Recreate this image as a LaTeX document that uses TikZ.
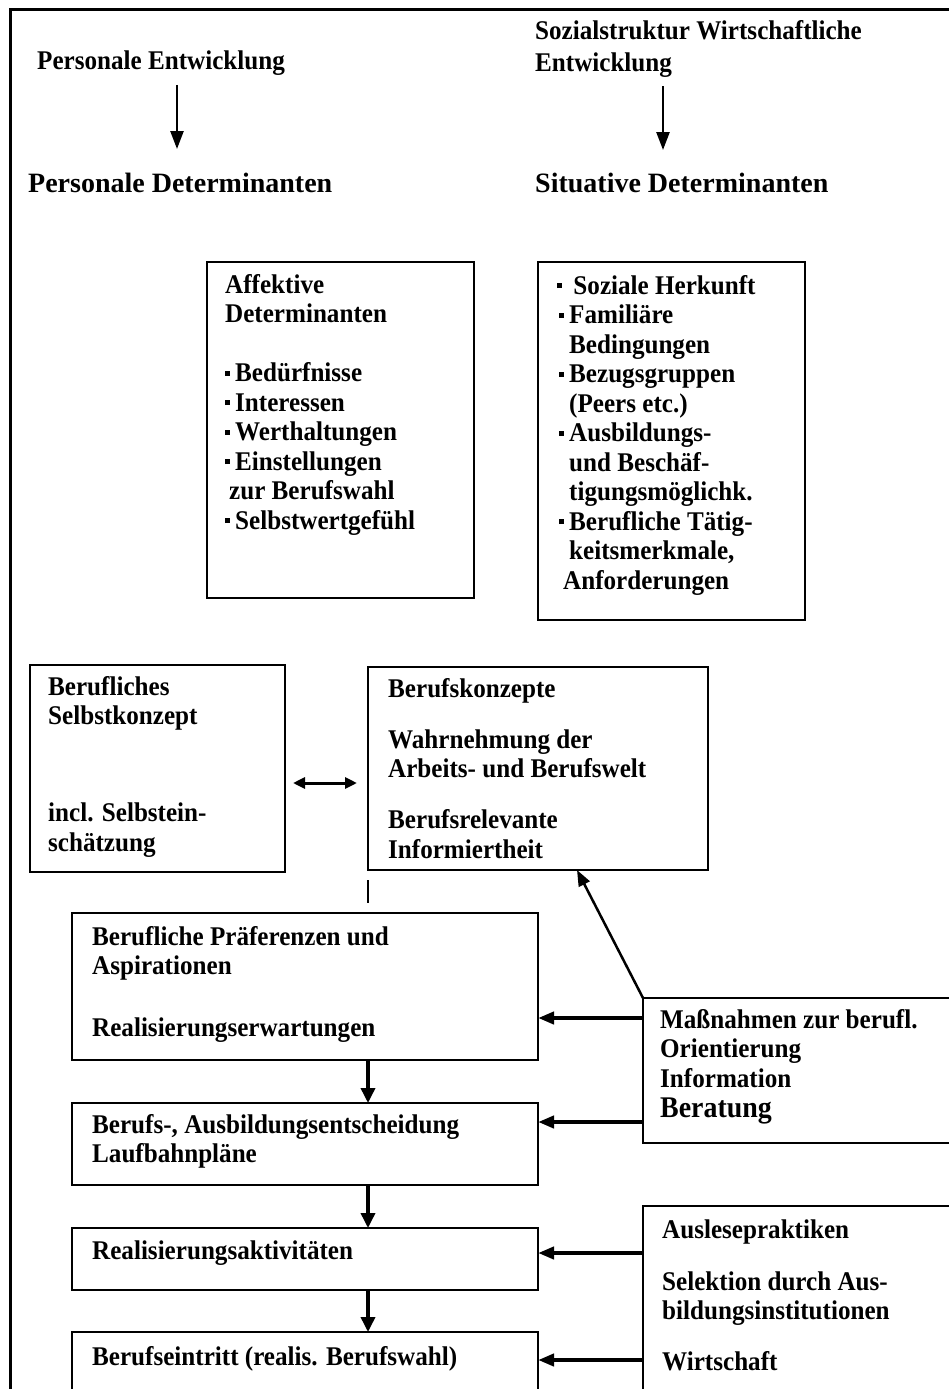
\documentclass[tikz,border=0pt]{standalone}
\usepackage{fontspec}
\setmainfont{Liberation Serif}
% slightly narrowed face: taller letters at the same line widths
\newfontfamily\narrowfont{Liberation Serif}[FakeStretch=0.93]
\usetikzlibrary{arrows.meta}

% small square bullet for list items
\newcommand{\sqb}{\rule[6pt]{5pt}{5pt}\hspace{5pt}}

\tikzset{
  frame/.style={line width=3pt},
  box/.style={draw, line width=2pt, anchor=north west, inner sep=0pt, outer sep=0pt},
  txt/.style={anchor=north west, inner sep=0pt, align=left,
              font=\narrowfont\bfseries\fontsize{27}{29.5}\selectfont, execute at begin node=\strut},
  head/.style={anchor=north west, inner sep=0pt, align=left,
              font=\bfseries\fontsize{28}{33}\selectfont, execute at begin node=\strut},
  arr/.style={-{Triangle[width=13pt,length=18pt]}, line width=2.5pt},
  diag/.style={-{Triangle[width=12pt,length=16pt]}, line width=2.5pt},
  flow/.style={-{Triangle[width=14pt,length=15pt]}, line width=3.5pt},
  side/.style={-{Triangle[width=12pt,length=16pt]}, line width=4pt},
  dbl/.style={{Triangle[width=11pt,length=12pt]}-{Triangle[width=11pt,length=12pt]}, line width=3pt},
  tick/.style={line width=1.5pt},
}

\begin{document}
\begin{tikzpicture}[x=1pt,y=-1pt]
\clip (0,0) rectangle (949,1389);
\fill[white] (0,0) rectangle (949,1389);

% outer frame (left and top edges)
\draw[frame] (960,10) -- (10,10) -- (10,1400);

% headings
\node[txt]  (pe) at (37,49)   {Personale Entwicklung};
\node[txt]  (sw) at (535,20)  {Sozialstruktur Wirtschaftliche\\[2.5pt]Entwicklung};
\node[head] (pd) at (28,169)  {Personale Determinanten};
\node[head] (sd) at (535,169) {Situative Determinanten};

\draw[arr, shorten <=6pt, shorten >=20pt]
  ([xshift=140pt]pe.south west) -- ([xshift=140pt]pe.south west |- pd.north);
\draw[arr, shorten <=6pt, shorten >=19pt]
  ([xshift=128pt]sw.south west) -- ([xshift=128pt]sw.south west |- sd.north);

% determinant boxes
\node[box, minimum width=267pt, minimum height=336pt] (aff) at (207,262) {};
\node[txt] (afft) at (225,274) {Affektive\\Determinanten\\[29.5pt]
  \sqb Bedürfnisse\\\sqb Interessen\\\sqb Werthaltungen\\\sqb Einstellungen\\
  \hspace*{4pt}zur Berufswahl\\\sqb Selbstwertgefühl};

\node[box, minimum width=267pt, minimum height=358pt] (soz) at (538,262) {};
\node[txt] (sozt) at (557,275) {\sqb\ Soziale Herkunft\\
  \hspace*{2pt}\sqb Familiäre\\
  \hspace*{12pt}Bedingungen\\
  \hspace*{2pt}\sqb Bezugsgruppen\\
  \hspace*{12pt}(Peers etc.)\\
  \hspace*{2pt}\sqb Ausbildungs-\\
  \hspace*{12pt}und Beschäf-\\
  \hspace*{12pt}tigungsmöglichk.\\
  \hspace*{2pt}\sqb Berufliche Tätig-\\
  \hspace*{12pt}keitsmerkmale,\\
  \hspace*{6pt}Anforderungen};

% concepts
\node[box, minimum width=255pt, minimum height=207pt] (bsk) at (30,665) {};
\node[txt] (bskt) at (48,676) {Berufliches\\Selbstkonzept\\[67.5pt]incl. Selbstein-\\schätzung};

\node[box, minimum width=340pt, minimum height=203pt] (bk) at (368,667) {};
\node[txt] (bkt) at (388,678) {Berufskonzepte\\[22pt]Wahrnehmung der\\[-1pt]Arbeits- und Berufswelt\\[22pt]Berufsrelevante\\Informiertheit};

\draw[dbl, shorten <=8pt, shorten >=11pt]
  ([yshift=-14.5pt]bsk.east) -- ([yshift=-14.5pt]bsk.east -| bk.west);

% decision chain
\node[box, minimum width=466pt, minimum height=147pt] (pref) at (72,913) {};
\node[txt] (preft) at (92,926) {Berufliche Präferenzen und\\Aspirationen\\[32.5pt]Realisierungserwartungen};

\node[box, minimum width=466pt, minimum height=82pt] (dec) at (72,1103) {};
\node[txt] (dect) at (92,1114) {Berufs-, Ausbildungsentscheidung\\Laufbahnpläne};

\node[box, minimum width=466pt, minimum height=62pt] (real) at (72,1228) {};
\node[txt] (realt) at (92,1239) {Realisierungsaktivitäten};

\node[box, minimum width=466pt, minimum height=100pt] (entry) at (72,1332) {};
\node[txt] (entryt) at (92,1345) {Berufseintritt (realis. Berufswahl)};

\draw[tick] ([yshift=-10pt]bk.south west) -- ([yshift=10pt]pref.north -| bk.south west);

\draw[flow] (pref.south -| bk.south west) -- (dec.north -| bk.south west);
\draw[flow] (dec.south -| bk.south west) -- (real.north -| bk.south west);
\draw[flow] (real.south -| bk.south west) -- (entry.north -| bk.south west);

% external influences
\node[box, minimum width=330pt, minimum height=145pt] (mass) at (643,998) {};
\node[txt] (masst) at (660,1009) {Maßnahmen zur berufl.\\Orientierung\\Information\\[1pt]{\fontsize{30}{33}\selectfont Beratung}};

\node[box, minimum width=330pt, minimum height=250pt] (ausl) at (643,1206) {};
\node[txt] (auslt) at (662,1220) {Auslesepraktiken\\[22.5pt]Selektion durch Aus-\\[-1pt]bildungsinstitutionen\\[21.5pt]Wirtschaft};

\draw[diag] (mass.north west) -- ([xshift=209pt]bk.south west);
\draw[side] ([yshift=-20pt]mass.north west) -- ([yshift=-20pt]mass.north west -| pref.east);
\draw[side] ([yshift=-124pt]mass.north west) -- ([yshift=-124pt]mass.north west -| dec.east);
\draw[side] ([yshift=-47pt]ausl.north west) -- ([yshift=-47pt]ausl.north west -| real.east);
\draw[side] ([yshift=-154pt]ausl.north west) -- ([yshift=-154pt]ausl.north west -| entry.east);
\end{tikzpicture}
\end{document}
